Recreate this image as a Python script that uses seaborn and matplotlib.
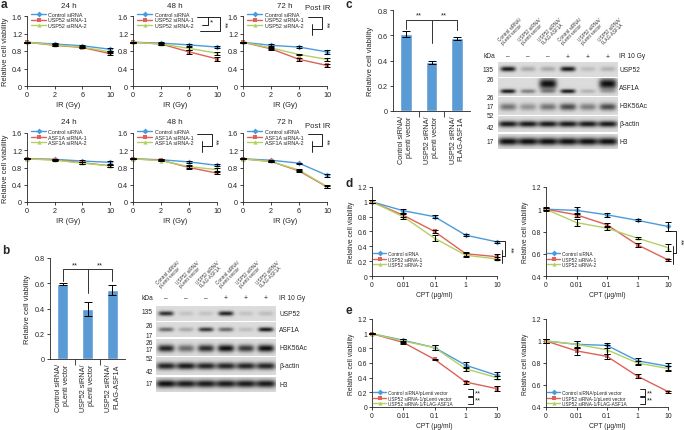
import numpy as np
import pandas as pd
import matplotlib
matplotlib.use("Agg")
import matplotlib.pyplot as plt
from matplotlib.lines import Line2D
import seaborn as sns

# ---------------- data ----------------
IR_DOSES = ["0", "2", "6", "10"]
CPT_DOSES = ["0", "0.01", "0.1", "1", "10"]
HOURS = ["24 h", "48 h", "72 h"]
USP52_GROUPS = ["Control siRNA", "USP52 siRNA-1", "USP52 siRNA-2"]
ASF1A_GROUPS = ["Control siRNA", "ASF1A siRNA-1", "ASF1A siRNA-2"]
RESCUE_GROUPS = ["Control siRNA/pLenti vector", "USP52 siRNA-1/pLenti vector",
                 "USP52 siRNA-1/FLAG-ASF1A"]

# panel a, top row: USP52 knockdown, one row per group
a_usp52_24h = [[1.00, 0.96, 0.92, 0.84], [1.00, 0.93, 0.88, 0.74], [1.00, 0.94, 0.89, 0.78]]
a_usp52_48h = [[1.00, 0.98, 0.94, 0.89], [1.00, 0.96, 0.78, 0.62], [1.00, 0.96, 0.86, 0.75]]
a_usp52_72h = [[1.00, 0.93, 0.89, 0.78], [1.00, 0.85, 0.61, 0.47], [1.00, 0.87, 0.72, 0.61]]
a_usp52_24h_err = [[0.01, 0.02, 0.02, 0.03], [0.01, 0.02, 0.02, 0.03], [0.01, 0.02, 0.02, 0.03]]
a_usp52_48h_err = [[0.01, 0.02, 0.03, 0.03], [0.01, 0.02, 0.04, 0.04], [0.01, 0.02, 0.03, 0.03]]
a_usp52_72h_err = [[0.01, 0.02, 0.02, 0.04], [0.01, 0.02, 0.03, 0.04], [0.01, 0.02, 0.02, 0.03]]

# panel a, bottom row: ASF1A knockdown
a_asf1a_24h = [[1.00, 0.99, 0.95, 0.92], [1.00, 0.98, 0.91, 0.84], [1.00, 0.97, 0.90, 0.84]]
a_asf1a_48h = [[1.00, 0.98, 0.93, 0.85], [1.00, 0.97, 0.80, 0.67], [1.00, 0.96, 0.82, 0.75]]
a_asf1a_72h = [[1.00, 0.97, 0.90, 0.62], [1.00, 0.94, 0.72, 0.35], [1.00, 0.94, 0.74, 0.36]]
a_asf1a_24h_err = [[0.01, 0.01, 0.03, 0.03], [0.01, 0.01, 0.02, 0.02], [0.01, 0.01, 0.02, 0.02]]
a_asf1a_48h_err = [[0.01, 0.01, 0.02, 0.02], [0.01, 0.02, 0.03, 0.03], [0.01, 0.02, 0.03, 0.03]]
a_asf1a_72h_err = [[0.01, 0.01, 0.01, 0.03], [0.01, 0.02, 0.02, 0.03], [0.01, 0.02, 0.02, 0.03]]

# panels b and c: bar charts
BAR_LABELS = ["Control siRNA/\npLenti vector", "USP52 siRNA/\npLenti vector",
              "USP52 siRNA/\nFLAG-ASF1A"]
b_viability = [0.595, 0.395, 0.548]
b_viability_err = [0.010, 0.055, 0.042]
c_viability = [0.610, 0.385, 0.575]
c_viability_err = [0.020, 0.015, 0.010]

# western blots (band darkness per lane, 0-1)
LANE_LABELS = BAR_LABELS * 2
IR_STATUS = ["\u2013", "\u2013", "\u2013", "+", "+", "+"]
b_usp52 = [0.85, 0.12, 0.12, 0.90, 0.12, 0.15]
b_asf1a = [0.55, 0.25, 0.80, 0.55, 0.15, 0.95]
b_h3k56ac = [0.90, 0.55, 0.85, 1.00, 0.80, 1.00]
b_actin = [0.90, 0.95, 0.90, 0.90, 0.90, 0.90]
b_h3 = [1.00, 0.95, 0.95, 0.95, 0.95, 0.95]
c_usp52 = [0.95, 0.25, 0.25, 0.95, 0.15, 0.20]
c_asf1a = [0.95, 0.45, 0.35, 0.95, 0.20, 0.20]
c_flag_asf1a = [0.00, 0.00, 1.00, 0.00, 0.00, 1.00]
c_h3k56ac = [0.50, 0.35, 0.50, 0.70, 0.45, 0.70]
c_actin = [0.95, 0.95, 0.95, 0.95, 0.95, 0.95]
c_h3 = [1.00, 1.00, 1.00, 1.00, 1.00, 1.00]

# panel d: CPT, USP52 knockdown (two cell lines)
d_left = [[1.00, 0.88, 0.80, 0.55, 0.46], [1.00, 0.82, 0.60, 0.30, 0.26], [1.00, 0.80, 0.51, 0.28, 0.23]]
d_left_err = [[0.02, 0.03, 0.02, 0.01, 0.01], [0.02, 0.03, 0.02, 0.03, 0.03], [0.02, 0.03, 0.04, 0.03, 0.02]]
d_right = [[1.00, 0.99, 0.95, 0.90, 0.845], [1.00, 0.95, 0.86, 0.68, 0.545], [1.00, 0.88, 0.83, 0.74, 0.655]]
d_right_err = [[0.01, 0.03, 0.02, 0.01, 0.04], [0.01, 0.02, 0.02, 0.02, 0.01], [0.02, 0.03, 0.02, 0.01, 0.03]]

# panel e: CPT, rescue
e_left = [[1.00, 0.91, 0.81, 0.57, 0.43], [1.00, 0.88, 0.65, 0.34, 0.25], [1.00, 0.90, 0.81, 0.52, 0.40]]
e_left_err = [[0.01, 0.02, 0.03, 0.04, 0.05], [0.01, 0.02, 0.01, 0.02, 0.03], [0.01, 0.03, 0.03, 0.03, 0.02]]
e_right = [[1.00, 0.97, 0.96, 0.82, 0.77], [1.00, 0.91, 0.86, 0.68, 0.54], [1.00, 0.97, 0.92, 0.80, 0.75]]
e_right_err = [[0.02, 0.03, 0.02, 0.03, 0.03], [0.02, 0.04, 0.02, 0.02, 0.01], [0.02, 0.03, 0.04, 0.02, 0.02]]

# ---------------- style ----------------
COLORS = ["#4a9bdb", "#dd6259", "#b3d064"]
MARKERS = ["D", "s", "^"]
BAR_COLOR = "#5b9bd5"

sns.set_theme(style="ticks")
plt.rcParams["font.family"] = ["Liberation Sans", "DejaVu Sans"]
plt.rcParams["axes.linewidth"] = 0.6
plt.rcParams["xtick.major.width"] = 0.6
plt.rcParams["ytick.major.width"] = 0.6
plt.rcParams["xtick.major.size"] = 2
plt.rcParams["ytick.major.size"] = 2
plt.rcParams["xtick.major.pad"] = 1.5
plt.rcParams["ytick.major.pad"] = 1.5
plt.rcParams["axes.edgecolor"] = "#222222"

W, H = 684, 431
fig = plt.figure(figsize=(W / 100, H / 100), dpi=100)


def add_ax(x0, y0, x1, y1):
    return fig.add_axes([x0 / W, 1 - y1 / H, (x1 - x0) / W, (y1 - y0) / H])


def ftext(x, y, s, **kw):
    fig.text(x / W, 1 - y / H, s, **kw)


def fline(xs, ys, lw=0.6):
    fig.add_artist(Line2D([x / W for x in xs], [1 - y / H for y in ys],
                          transform=fig.transFigure, color="black", lw=lw))


def line_panel(ax, doses, groups, values, errors, ylim, yticks, xlabel,
               legend_anchor, legend_loc, legend_size, ylabel=True,
               label_size=5.2, tick_size=5.0):
    rows = []
    for g, vals, errs in zip(groups, values, errors):
        for i, (v, e) in enumerate(zip(vals, errs)):
            rows.append({"dose": i, "value": v, "err": e, "group": g})
    df = pd.DataFrame(rows)
    sns.lineplot(data=df, x="dose", y="value", hue="group", style="group",
                 hue_order=groups, style_order=groups, palette=COLORS,
                 markers=MARKERS, dashes=False, markersize=3, linewidth=1.0,
                 markeredgewidth=0, ax=ax)
    ax.errorbar(df["dose"], df["value"], yerr=df["err"], fmt="none",
                ecolor="black", elinewidth=0.7, capsize=2.2, capthick=0.7,
                clip_on=False, zorder=4)
    for ln in ax.lines:
        ln.set_clip_on(False)
    leg = ax.get_legend()
    handles = leg.legend_handles
    labels = [t.get_text() for t in leg.get_texts()]
    leg.remove()
    ax.legend(handles, labels, loc=legend_loc, bbox_to_anchor=legend_anchor,
              frameon=False, fontsize=legend_size, handlelength=2.8,
              handletextpad=0.4, labelspacing=0.12, borderaxespad=0, borderpad=0)
    ax.set_xlim(0, len(doses) - 1)
    ax.set_ylim(*ylim)
    ax.set_xticks(range(len(doses)), doses)
    ax.set_yticks(yticks, [f"{t:g}" for t in yticks])
    ax.tick_params(labelsize=tick_size, colors="#222222")
    ax.set_xlabel(xlabel, fontsize=label_size, labelpad=2)
    ax.set_ylabel("Relative cell viability" if ylabel else "", fontsize=label_size,
                  labelpad=2)
    sns.despine(ax=ax)


def bar_panel(ax, values, errors, brackets):
    sns.barplot(x=list(range(3)), y=values, color=BAR_COLOR, width=0.45,
                saturation=1, ax=ax)
    ax.errorbar(range(3), values, yerr=errors, fmt="none", ecolor="black",
                elinewidth=0.7, capsize=3, capthick=0.7, zorder=4)
    top, l0, l1, l2 = brackets
    ax.plot([0, 0, 2, 2], [l0, top, top, l2], color="#333333", lw=0.7, clip_on=False)
    ax.plot([1, 1], [l1, top], color="#333333", lw=0.7, clip_on=False)
    for xs in (0.5, 1.5):
        ax.text(xs, top + 0.01, "**", ha="center", va="bottom", fontsize=5.5)
    ax.set_xlim(-0.5, 2.5)
    ax.set_ylim(0, 0.8)
    ax.set_yticks([0, 0.2, 0.4, 0.6, 0.8], ["0", "0.2", "0.4", "0.6", "0.8"])
    ax.set_xticks(range(3), BAR_LABELS, rotation=90, va="top", ha="center",
                  multialignment="right", fontsize=5.2)
    ax.set_xticks([0.5, 1.5], minor=True)
    ax.tick_params(axis="x", which="major", length=0, pad=3)
    ax.tick_params(axis="x", which="minor", length=4, width=0.6)
    ax.tick_params(axis="y", labelsize=5.2)
    ax.set_ylabel("Relative cell viability", fontsize=5.5, labelpad=3)
    sns.despine(ax=ax)


def blot_strip(ax, bands, bg=0.86):
    xs = np.linspace(0, 6, 360)
    ys = np.linspace(0, 1, 60)
    X, Y = np.meshgrid(xs, ys)
    dark = np.zeros_like(X)
    for lane_bands, c, t, w in bands:
        for i, v in enumerate(lane_bands):
            lane = np.exp(-(np.abs(X - (i + 0.5)) / w) ** 4)
            band = np.exp(-((Y - c) / t) ** 2)
            dark += v * lane * band
    img = bg - (bg - 0.06) * np.clip(dark, 0, 1)
    ax.imshow(img, cmap="gray", vmin=0, vmax=1, extent=(0, 6, 1, 0),
              aspect="auto", interpolation="bilinear")
    ax.set_xlim(0, 6)
    ax.set_ylim(1, 0)
    ax.set_xticks([])
    ax.set_yticks([])
    for s in ax.spines.values():
        s.set_visible(False)


def western(x0, x1, strips, names, kda, label_y, ir_y, kda_x, name_x):
    lane_w = (x1 - x0) / 6
    for (y0, y1, bands), nm in zip(strips, names):
        ax = add_ax(x0, y0, x1, y1)
        blot_strip(ax, bands)
        ftext(name_x, (y0 + y1) / 2, nm, fontsize=4.8, ha="left", va="center")
    for y, s in kda:
        ftext(kda_x, y, s, fontsize=4.8, ha="right", va="center")
    ftext(kda_x - 11, ir_y, "kDa", fontsize=4.8, ha="left", va="center")
    for i, (lab, ir) in enumerate(zip(LANE_LABELS, IR_STATUS)):
        cx = x0 + lane_w * (i + 0.5)
        ftext(cx, ir_y, ir, fontsize=4.8, ha="center", va="center")
        ftext(cx - 4, label_y, lab, fontsize=3.3, rotation=45, ha="left", va="bottom",
              rotation_mode="anchor", color="#333333", linespacing=1.0)
    ftext(name_x, ir_y, "IR 10 Gy", fontsize=4.8, ha="left", va="center")


# ---------------- panel a ----------------
a_cols = [(27, 110), (133, 217), (243, 327)]
a_rows = [(17, 87, USP52_GROUPS, [a_usp52_24h, a_usp52_48h, a_usp52_72h],
           [a_usp52_24h_err, a_usp52_48h_err, a_usp52_72h_err]),
          (134, 203, ASF1A_GROUPS, [a_asf1a_24h, a_asf1a_48h, a_asf1a_72h],
           [a_asf1a_24h_err, a_asf1a_48h_err, a_asf1a_72h_err])]
for y0, y1, groups, vals, errs in a_rows:
    for j, (x0, x1) in enumerate(a_cols):
        ax = add_ax(x0, y0, x1, y1)
        line_panel(ax, IR_DOSES, groups, vals[j], errs[j], (0, 1.6),
                   [0, 0.4, 0.8, 1.2, 1.6], "IR (Gy)", (0.05, 1.06), "upper left",
                   3.9, ylabel=(j == 0), label_size=5.4, tick_size=5.2)
        ftext((x0 + x1) / 2, y0 - 11, HOURS[j], fontsize=5.8, ha="center", va="center")
    ftext(318, y0 - 8, "Post IR", fontsize=5.6, ha="center", va="center")

# significance brackets, panel a
fline([197, 220, 220, 200], [18, 18, 32, 32])
fline([202, 208, 208], [26, 26, 18])
ftext(212, 23, "*", fontsize=6, ha="center", va="center")
ftext(224, 25, "**", fontsize=6, ha="center", va="center", rotation=270)
for yb in (18, 135):
    fline([308, 322, 322, 312], [yb, yb, yb + 12, yb + 12])
    fline([312, 312], [yb + 7, yb + 18])
    ftext(326, yb + 7, "**", fontsize=6, ha="center", va="center", rotation=270)
fline([197, 212, 212, 202], [135, 135, 147, 147])
fline([202, 202], [142, 153])
ftext(215, 142, "**", fontsize=6, ha="center", va="center", rotation=270)

# ---------------- panel b ----------------
ax = add_ax(50, 259, 125, 360)
bar_panel(ax, b_viability, b_viability_err, (0.71, 0.62, 0.52, 0.62))
western(156, 276,
        [(307, 322, [(b_usp52, 0.5, 0.16, 0.38)]),
         (323, 338, [(b_asf1a, 0.5, 0.15, 0.38)]),
         (340, 357, [(b_h3k56ac, 0.55, 0.22, 0.42)]),
         (358, 376, [(b_actin, 0.5, 0.2, 0.48)]),
         (378, 393, [(b_h3, 0.45, 0.26, 0.5)])],
        ["USP52", "ASF1A", "H3K56Ac", "\u03b2-actin", "H3"],
        [(313, "135"), (326, "26"), (337, "17"), (344, "26"), (350, "17"),
         (360, "52"), (373, "42"), (385, "17")],
        289, 299, 153, 279)

# ---------------- panel c ----------------
ax = add_ax(393, 11, 470, 112)
bar_panel(ax, c_viability, c_viability_err, (0.72, 0.65, 0.54, 0.64))
western(498, 618,
        [(63, 78, [(c_usp52, 0.5, 0.16, 0.38)]),
         (79, 97, [(c_asf1a, 0.74, 0.12, 0.38), (c_flag_asf1a, 0.32, 0.3, 0.44)]),
         (98, 116, [(c_h3k56ac, 0.55, 0.2, 0.42)]),
         (117, 133, [(c_actin, 0.5, 0.2, 0.48)]),
         (135, 150, [(c_h3, 0.5, 0.26, 0.5)])],
        ["USP52", "ASF1A", "H3K56Ac", "\u03b2-actin", "H3"],
        [(70, "135"), (81, "26"), (99, "26"), (108, "17"), (117, "52"),
         (128, "42"), (142, "17")],
        46, 57, 494, 619)

# ---------------- panels d and e ----------------
ax = add_ax(372, 188, 497, 277)
line_panel(ax, CPT_DOSES, USP52_GROUPS, d_left, d_left_err, (0, 1.2),
           [0, 0.2, 0.4, 0.6, 0.8, 1.0, 1.2], "CPT (\u03bcg/ml)", (0.01, 0.1),
           "lower left", 3.4, label_size=4.9, tick_size=4.9)
ax = add_ax(546, 188, 668, 277)
line_panel(ax, CPT_DOSES, USP52_GROUPS, d_right, d_right_err, (0.4, 1.2),
           [0.4, 0.6, 0.8, 1.0, 1.2], "CPT (\u03bcg/ml)", (0.01, 0.1),
           "lower left", 3.4, label_size=4.9, tick_size=4.9)
ax = add_ax(372, 320, 497, 408)
line_panel(ax, CPT_DOSES, RESCUE_GROUPS, e_left, e_left_err, (0, 1.2),
           [0, 0.2, 0.4, 0.6, 0.8, 1.0, 1.2], "CPT (\u03bcg/ml)", (0.01, 0.01),
           "lower left", 3.4, label_size=4.9, tick_size=4.9)
ax = add_ax(546, 320, 668, 408)
line_panel(ax, CPT_DOSES, RESCUE_GROUPS, e_right, e_right_err, (0.4, 1.2),
           [0.4, 0.6, 0.8, 1.0, 1.2], "CPT (\u03bcg/ml)", (0.01, 0.01),
           "lower left", 3.4, label_size=4.9, tick_size=4.9)

# significance brackets, panels d and e
fline([500, 505, 505, 502], [242, 242, 257, 257])
fline([502, 502], [251, 264])
ftext(510, 250, "**", fontsize=6, ha="center", va="center", rotation=270)
fline([670, 676, 676, 673], [232, 232, 254, 254])
fline([673, 673], [247, 265])
ftext(680, 242, "**", fontsize=6, ha="center", va="center", rotation=270)
for bx in (468, 640):
    fline([bx, bx + 5, bx + 5, bx], [390, 390, 396.5, 396.5])
    fline([bx, bx + 5, bx + 5, bx], [398, 398, 404.5, 404.5])
    ftext(bx + 7, 393.5, "**", fontsize=5.5, ha="left", va="center")
    ftext(bx + 7, 401, "**", fontsize=5.5, ha="left", va="center")

# panel letters
for x, y, s in [(1, 5, "a"), (2, 251, "b"), (345, 5, "c"), (345, 184, "d"), (345, 311, "e")]:
    ftext(x, y, s, fontsize=8.5, fontweight="bold", ha="left", va="center")

fig.savefig("out.png", dpi=100)
